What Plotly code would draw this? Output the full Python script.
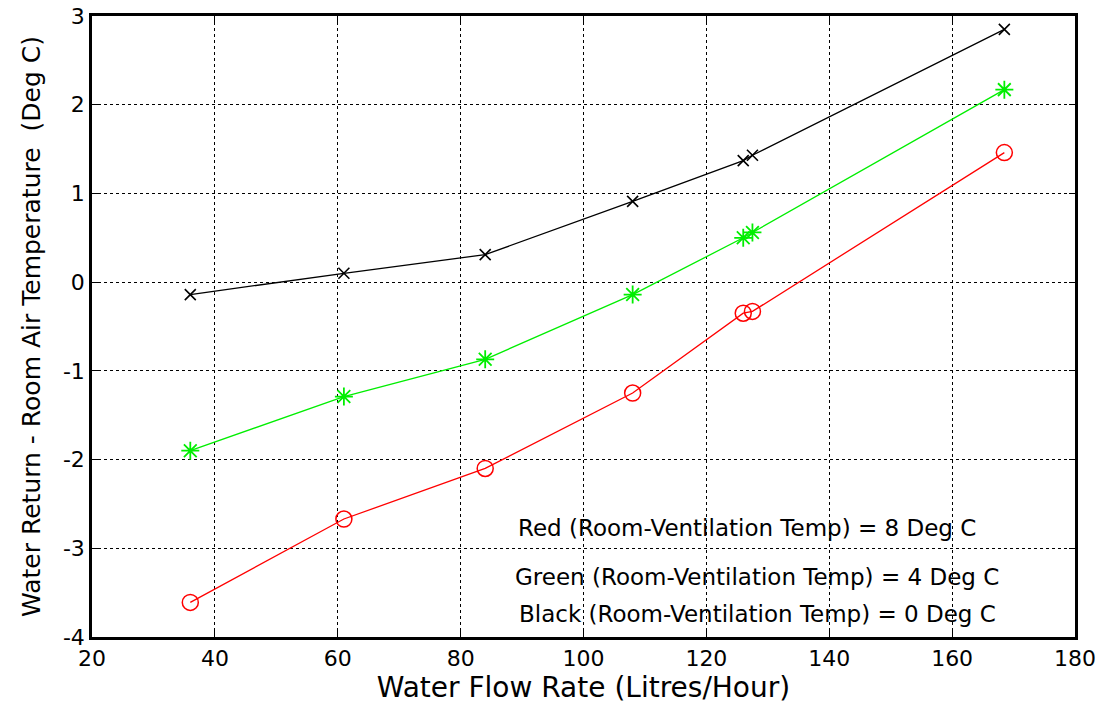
import plotly.graph_objects as go

flow = [36, 61, 84, 108, 126, 127.5, 168.5]
black_vals = [-0.14, 0.10, 0.31, 0.91, 1.37, 1.43, 2.85]
green_vals = [-1.90, -1.29, -0.87, -0.14, 0.50, 0.56, 2.17]
red_vals = [-3.61, -2.67, -2.10, -1.25, -0.35, -0.33, 1.46]

x_ticks = [20, 40, 60, 80, 100, 120, 140, 160, 180]
y_ticks = [-4, -3, -2, -1, 0, 1, 2, 3]
y_tick_text = ["-4", "-3", "-2", "-1", "0", "1", "2", "3"]

labels = ["Red (Room-Ventilation Temp) = 8 Deg C",
          "Green (Room-Ventilation Temp) = 4 Deg C",
          "Black (Room-Ventilation Temp) = 0 Deg C"]
label_x = [126.6, 128.2, 128.4]
label_y = [-2.77, -3.32, -3.74]

FONT = "DejaVu Sans"

fig = go.Figure()
fig.add_trace(go.Scatter(x=flow, y=black_vals, mode="lines+markers",
                         line=dict(color="black", width=1.3),
                         marker=dict(symbol="x-thin-open", size=11, color="black",
                                     line=dict(width=1.6, color="black"))))
fig.add_trace(go.Scatter(x=flow, y=green_vals, mode="lines+markers",
                         line=dict(color="#00ee00", width=1.3),
                         marker=dict(symbol="asterisk-open", size=15, color="#00ee00",
                                     line=dict(width=1.8, color="#00ee00"))))
fig.add_trace(go.Scatter(x=flow, y=red_vals, mode="lines+markers",
                         line=dict(color="red", width=1.3),
                         marker=dict(symbol="circle-open", size=16, color="red",
                                     line=dict(width=1.5, color="red"))))

for t, xx, yy in zip(labels, label_x, label_y):
    fig.add_annotation(x=xx, y=yy, text=t, showarrow=False,
                       font=dict(size=23, color="black", family=FONT))

fig.update_layout(
    width=1116, height=713,
    margin=dict(l=92, r=41, t=16, b=76, autoexpand=False),
    paper_bgcolor="white", plot_bgcolor="white",
    showlegend=False,
    font=dict(family=FONT, color="black"),
)
fig.update_xaxes(range=[20, 180], tickvals=x_ticks, ticks="inside", ticklen=6,
                 tickcolor="black", showline=True, linecolor="black", linewidth=2.5,
                 mirror="allticks", showgrid=True, gridcolor="black", griddash="dot",
                 gridwidth=1, zeroline=False, tickfont=dict(size=22), automargin=False,
                 title=dict(text="Water Flow Rate (Litres/Hour)", font=dict(size=28), standoff=4))
fig.update_yaxes(range=[-4, 3], tickvals=y_ticks, ticktext=y_tick_text, ticks="inside", ticklen=6,
                 tickcolor="black", showline=True, linecolor="black", linewidth=2.5,
                 mirror="allticks", showgrid=True, gridcolor="black", griddash="dot",
                 gridwidth=1, zeroline=False, tickfont=dict(size=22), automargin=False,
                 title=dict(text="Water Return - Room Air Temperature  (Deg C)", font=dict(size=25), standoff=16))

fig.write_html("out.html")
